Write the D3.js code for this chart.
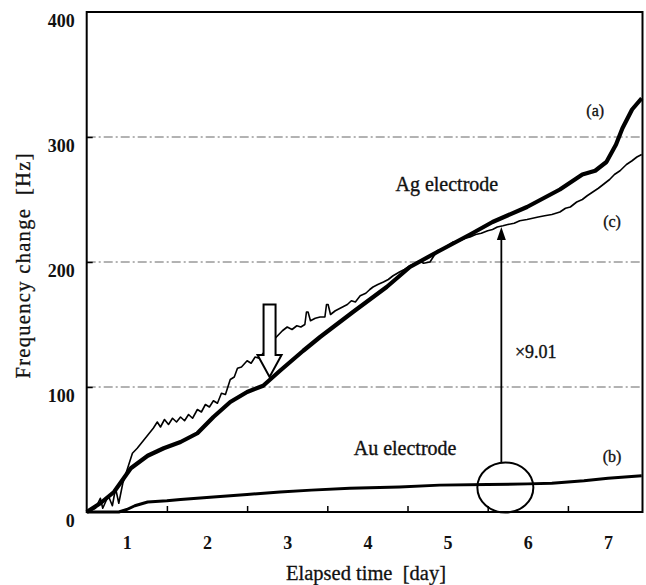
<!DOCTYPE html>
<html><head><meta charset="utf-8">
<script src="https://cdn.jsdelivr.net/npm/d3@7"></script>
<style>body{margin:0;background:#fff} svg{display:block}</style>
</head><body>
<svg id="chart" width="646" height="585"></svg>
<script>
// ---- data (days, Hz) ----
const agDaysA = [0,0.17,0.34,0.55,0.76,0.96,1.17,1.38,1.58,1.79,2.0,2.2,2.41,2.7,2.91,3.32,3.74,4.03,4.37,4.78,5.06,5.49,5.9,6.18,6.34,6.48,6.6,6.68,6.8,6.92];
const agValuesA = [0,7,16,35,45,51,56,63,76,88,96,101,113,129,140,160,180,196,208,222,232,244,258,270,273,280,294,307,322,331];

const agDaysC = [0,0.11,0.17,0.2,0.27,0.32,0.36,0.4,0.45,0.51,0.57,0.63,0.68,0.73,0.78,0.83,0.88,0.92,0.97,1.02,1.07,1.12,1.17,1.22,1.27,1.32,1.38,1.43,1.48,1.53,1.58,1.63,1.68,1.73,1.79,1.84,1.88,1.93,2.0,2.05,2.1,2.15,2.2,2.26,2.32,2.38,2.44,2.5,2.56,2.62,2.67,2.72,2.74,2.76,2.79,2.85,2.91,2.97,2.99,3.01,3.04,3.1,3.16,3.25,3.3,3.35,3.41,3.48,3.53,3.57,3.63,3.7,3.76,3.82,3.9,3.96,4.03,4.1,4.15,4.2,4.28,4.33,4.37,4.45,4.5,4.57,4.65,4.72,4.78,4.85,4.92,5.0,5.06,5.12,5.19,5.25,5.33,5.4,5.49,5.56,5.63,5.71,5.8,5.9,5.97,6.03,6.11,6.18,6.24,6.31,6.38,6.44,6.52,6.58,6.65,6.73,6.8,6.86,6.92];
const agValuesC = [0,3,11,3,13,5,19,7,23,35,47,51,55,59,63,67,72,68,74,70,75,72,76,73,78,75,82,80,86,84,89,87,95,94,106,108,115,116,121,119,124,123,127,131,137,141,145,148,146,149,148,150,160,160,153,155,156,156,166,166,158,161,163,166,169,168,173,175,178,180,182,184,186,189,192,194,197,199,201,199,200,205,209,211,213,216,217,219,220,222,223,225,226,228,229,230,231,233,234,235,236,237,238,240,243,244,248,250,253,256,259,262,266,270,273,278,281,284,286];

const auDays = [0,0.4,0.5,0.6,0.76,1.0,1.17,1.58,2.0,2.41,2.8,3.28,3.9,4.4,5.0,5.5,5.8,6.2,6.5,6.92];
const auValues = [0,0,2,5,8,9,10,12,14,16,17.5,19,20,21.5,22,22.5,23,25,27,29];

const yTickValues = [0,100,200,300,400];
const gridValues = [100,200,300];
const xTickDays = [1,2,3,4,5,6];
const xTickLabels = ["1","2","3","4","5","6","7"];
const ratioLabel = "\u00d79.01";

// ---- scales ----
const svg = d3.select("#chart");
const x = d3.scaleLinear().domain([0, 6.93]).range([86.7, 642.5]);
const y = d3.scaleLinear().domain([0, 400]).range([512, 12]);
const serif = "'Liberation Serif', 'DejaVu Serif', serif";

// grid lines
svg.append("g").selectAll("line").data(gridValues).join("line")
  .attr("x1", x(0)).attr("x2", x(6.93))
  .attr("y1", d => y(d)).attr("y2", d => y(d))
  .attr("stroke", "#666").attr("stroke-width", 1)
  .attr("stroke-dasharray", "9,3,2,3");

// y axis
const yAxis = svg.append("g").attr("transform", `translate(${x(0)},0)`)
  .call(d3.axisLeft(y).tickValues(yTickValues).tickSizeInner(-6).tickSizeOuter(0).tickPadding(12));
yAxis.select(".domain").remove();
yAxis.selectAll(".tick line").attr("stroke", "#000").attr("stroke-width", 1.5)
  .attr("opacity", d => (d === 0 || d === 400) ? 0 : 1);
yAxis.selectAll(".tick text").attr("font-family", serif).attr("font-size", 18)
  .attr("font-weight", "bold").attr("fill", "#111").attr("dy", "0.78em");

// x axis ticks (day boundaries)
const xAxis = svg.append("g").attr("transform", `translate(0,${y(0)})`)
  .call(d3.axisBottom(x).tickValues(xTickDays).tickSizeInner(-6).tickSizeOuter(0).tickFormat(""));
xAxis.select(".domain").remove();
xAxis.selectAll(".tick line").attr("stroke", "#000").attr("stroke-width", 1.5);

// x labels centred in each day
const xLab = svg.append("g").attr("transform", `translate(0,${y(0)})`)
  .call(d3.axisBottom(x).tickValues(xTickLabels.map((d,i) => i + 0.5)).tickSize(0).tickPadding(24)
    .tickFormat((d,i) => xTickLabels[i]));
xLab.select(".domain").remove();
xLab.selectAll(".tick text").attr("font-family", serif).attr("font-size", 18)
  .attr("font-weight", "bold").attr("fill", "#111");

// frame
svg.append("rect").attr("x", x(0)).attr("y", y(400))
  .attr("width", x(6.93) - x(0)).attr("height", y(0) - y(400))
  .attr("fill", "none").attr("stroke", "#000").attr("stroke-width", 2);

// series
const line = d3.line().x(d => x(d[0])).y(d => y(d[1]));
const zip = (a, b) => a.map((d, i) => [d, b[i]]);
svg.append("path").datum(zip(auDays, auValues)).attr("d", line)
  .attr("fill", "none").attr("stroke", "#000").attr("stroke-width", 3).attr("stroke-linejoin", "round");
svg.append("path").datum(zip(agDaysC, agValuesC)).attr("d", line)
  .attr("fill", "none").attr("stroke", "#000").attr("stroke-width", 1.6).attr("stroke-linejoin", "round");
svg.append("path").datum(zip(agDaysA, agValuesA)).attr("d", line)
  .attr("fill", "none").attr("stroke", "#000").attr("stroke-width", 4.2).attr("stroke-linejoin", "round");

// hollow down arrow
const ax = x(2.28), aTop = y(166), aTip = y(108);
const hs = 6, hh = 12, headStart = aTip - 22;
svg.append("path")
  .attr("d", `M${ax-hs},${aTop} L${ax+hs},${aTop} L${ax+hs},${headStart} L${ax+hh},${headStart} L${ax},${aTip} L${ax-hh},${headStart} L${ax-hs},${headStart} Z`)
  .attr("fill", "#fff").attr("stroke", "#000").attr("stroke-width", 2);

// ratio arrow and ellipse
const rx = x(5.17), ecy = y(19.6);
svg.append("ellipse").attr("cx", x(5.22)).attr("cy", ecy).attr("rx", 28).attr("ry", 25)
  .attr("fill", "none").attr("stroke", "#000").attr("stroke-width", 2);
const tipY = y(228);
svg.append("line").attr("x1", rx).attr("x2", rx).attr("y1", ecy - 25).attr("y2", tipY + 10)
  .attr("stroke", "#000").attr("stroke-width", 1.8);
svg.append("path").attr("d", `M${rx},${tipY} L${rx-4.5},${tipY+13} L${rx+4.5},${tipY+13} Z`).attr("fill", "#000");

// annotations
const ann = [
  {t: "Ag electrode", d: 4.49, v: 257, size: 20, anchor: "middle"},
  {t: "Au electrode", d: 3.97, v: 45.5, size: 20, anchor: "middle"},
  {t: "(a)", d: 6.34, v: 317, size: 16, anchor: "middle"},
  {t: "(c)", d: 6.55, v: 228, size: 16, anchor: "middle"},
  {t: "(b)", d: 6.55, v: 40, size: 16, anchor: "middle"},
  {t: ratioLabel, d: 5.34, v: 123, size: 18, anchor: "start"}
];
svg.append("g").selectAll("text").data(ann).join("text")
  .attr("x", d => x(d.d)).attr("y", d => y(d.v))
  .attr("text-anchor", d => d.anchor).attr("font-family", serif)
  .attr("font-size", d => d.size).attr("fill", "#111")
  .attr("stroke", "#111").attr("stroke-width", 0.35).text(d => d.t);

// axis titles
svg.append("text").attr("x", 366).attr("y", 580).attr("text-anchor", "middle")
  .attr("font-family", serif).attr("font-size", 20.5).attr("fill", "#111")
  .attr("stroke", "#111").attr("stroke-width", 0.3)
  .text("Elapsed time\u00a0 [day]");
svg.append("text").attr("transform", "translate(30,266) rotate(-90)").attr("text-anchor", "middle")
  .attr("font-family", serif).attr("font-size", 20.5).attr("fill", "#111")
  .attr("stroke", "#111").attr("stroke-width", 0.3)
  .attr("textLength", 225).attr("lengthAdjust", "spacing")
  .text("Frequency change\u00a0 [Hz]");
</script>
</body></html>
